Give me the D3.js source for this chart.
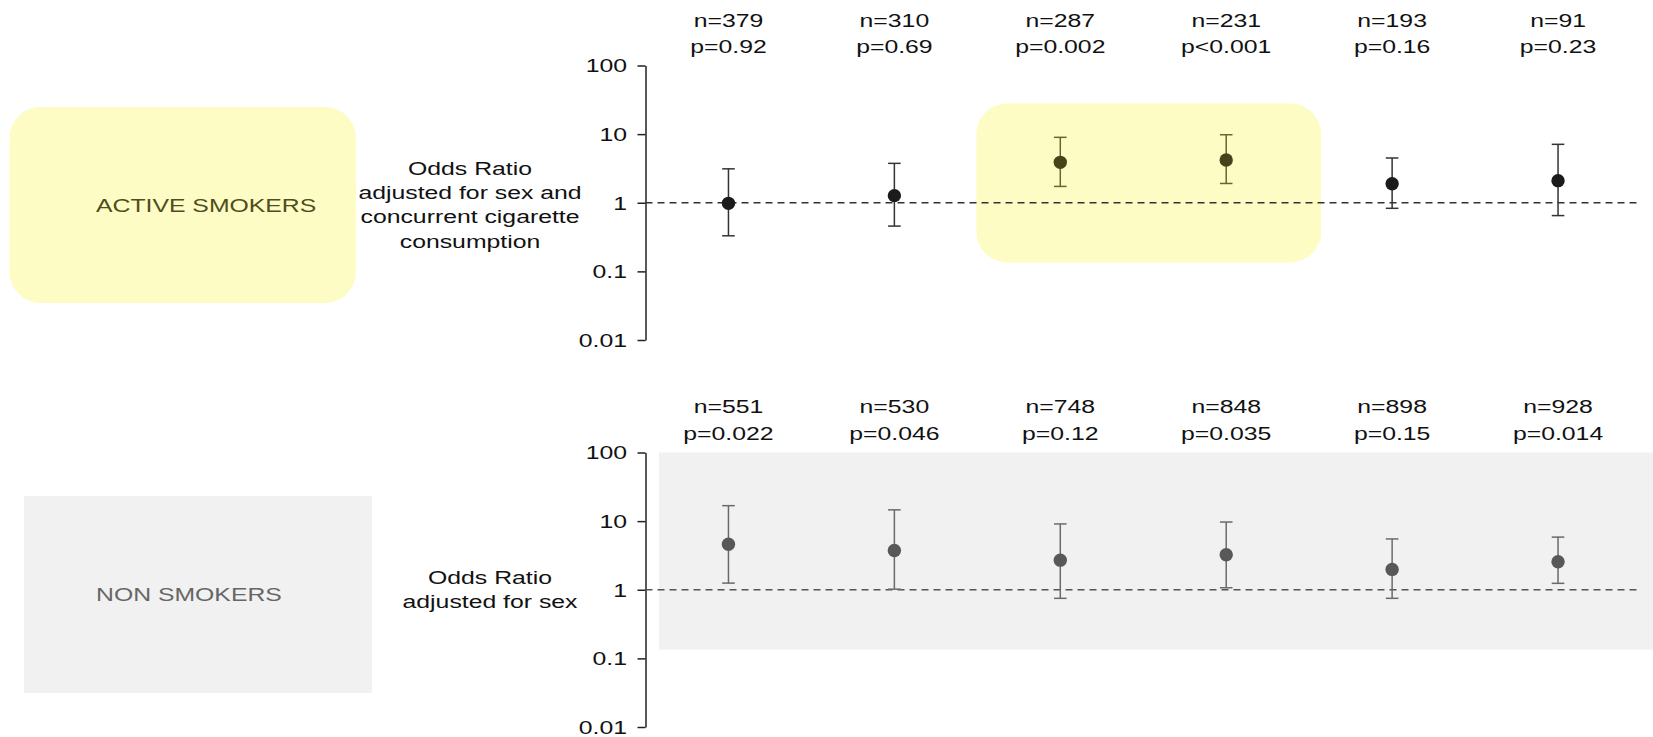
<!doctype html>
<html>
<head>
<meta charset="utf-8">
<title>Odds ratios by group</title>
<script src="https://d3js.org/d3.v7.min.js"></script>
<style>
  body { margin: 0; background: #fff; }
  svg text { font-family: "Liberation Sans", Arial, sans-serif; font-size: 18.5px; }
</style>
</head>
<body>
<script>

// ---- data ----
var activeN  = [379, 310, 287, 231, 193, 91];
var activeP  = ["p=0.92", "p=0.69", "p=0.002", "p<0.001", "p=0.16", "p=0.23"];
var activeOR = [0.98, 1.27, 3.88, 4.2, 1.89, 2.1];
var activeLo = [0.33, 0.457, 1.73, 1.91, 0.83, 0.65];
var activeHi = [3.12, 3.75, 8.98, 9.8, 4.49, 7.1];
var activeHighlight = [2, 3];   // columns inside the yellow box

var nonN  = [551, 530, 748, 848, 898, 928];
var nonP  = ["p=0.022", "p=0.046", "p=0.12", "p=0.035", "p=0.15", "p=0.014"];
var nonOR = [4.6, 3.73, 2.7, 3.23, 1.98, 2.56];
var nonLo = [1.25, 1.02, 0.75, 1.07, 0.75, 1.24];
var nonHi = [16.8, 14.6, 9.1, 9.7, 5.5, 5.85];

var tickVals = [0.01, 0.1, 1, 10, 100];
var activeTitle = ["Odds Ratio", "adjusted for sex and", "concurrent cigarette", "consumption"];
var nonTitle = ["Odds Ratio", "adjusted for sex"];

// ---- layout ----
var W = 1653, H = 737;
var SX = 1.34;          // the figure's type is stretched sideways
var axisX = 645.5;

var svg = d3.select("body").append("svg")
    .attr("width", W)
    .attr("height", H);

var x = d3.scaleBand()
    .domain(d3.range(6))
    .range([axisX, 1641]);

function cx(i) { return x(i) + x.bandwidth() / 2; }

function stretchedText(g, tx, ty, str, anchor, color) {
  return g.append("text")
      .attr("transform", "translate(" + tx + "," + ty + ") scale(" + SX + ",1)")
      .attr("text-anchor", anchor)
      .attr("fill", color)
      .text(str);
}

function panel(opt) {
  var y = d3.scaleLog()
      .domain([0.01, 100])
      .range([opt.bottom, opt.top]);

  var g = svg.append("g");

  // backgrounds
  opt.background(g, y);

  // group label box
  g.append("rect")
      .attr("x", opt.box[0]).attr("y", opt.box[1])
      .attr("width", opt.box[2]).attr("height", opt.box[3])
      .attr("rx", opt.boxR).attr("ry", opt.boxR)
      .attr("fill", opt.boxFill);
  stretchedText(g, 96, opt.box[1] + opt.box[3] / 2 + 6.6, opt.label, "start", opt.labelColor);

  // y title
  opt.title.forEach(function(t, i) {
    stretchedText(g, opt.titleX, opt.titleY + i * 24.4, t, "middle", "#111");
  });

  // axis
  var ax = g.append("g")
      .attr("transform", "translate(" + axisX + ",0)")
      .call(d3.axisLeft(y).tickValues(tickVals).tickFormat(function(d) { return String(d); })
            .tickSize(8).tickSizeOuter(0));
  ax.select(".domain").attr("stroke", "#222").attr("stroke-width", 1.5);
  ax.selectAll(".tick line").attr("stroke", "#222").attr("stroke-width", 1.5);
  ax.selectAll(".tick text")
      .attr("x", -18.5 / SX)
      .attr("dy", "0.34em")
      .attr("transform", "scale(" + SX + ",1)")
      .attr("fill", "#111")
      .style("font-size", "18.5px")
      .style("font-family", "'Liberation Sans', Arial, sans-serif");

  // reference line at OR = 1
  g.append("line")
      .attr("x1", axisX).attr("x2", x.range()[1])
      .attr("y1", y(1)).attr("y2", y(1))
      .attr("stroke", opt.refColor)
      .attr("stroke-width", 1.5)
      .attr("stroke-dasharray", "7,5");

  // n / p labels
  opt.n.forEach(function(n, i) {
    stretchedText(g, cx(i), opt.labelY, "n=" + n, "middle", "#111");
    stretchedText(g, cx(i), opt.labelY + 26.3, opt.p[i], "middle", "#111");
  });

  // error bars and points
  opt.or.forEach(function(v, i) {
    var hl = opt.highlight.indexOf(i) >= 0;
    var barC = hl ? opt.hlBar : opt.bar;
    var dotC = hl ? opt.hlDot : opt.dot;
    var e = g.append("g").attr("stroke", barC).attr("stroke-width", 1.5);
    e.append("line").attr("x1", cx(i)).attr("x2", cx(i))
        .attr("y1", y(opt.hi[i])).attr("y2", y(opt.lo[i]));
    [opt.hi[i], opt.lo[i]].forEach(function(c) {
      e.append("line").attr("x1", cx(i) - 6.3).attr("x2", cx(i) + 6.3)
          .attr("y1", y(c)).attr("y2", y(c));
    });
    g.append("circle")
        .attr("cx", cx(i)).attr("cy", y(v))
        .attr("r", 6.7)
        .attr("fill", dotC);
  });
}

// top: active smokers
panel({
  top: 65.5, bottom: 340,
  n: activeN, p: activeP, or: activeOR, lo: activeLo, hi: activeHi,
  highlight: activeHighlight,
  labelY: 26.6,
  box: [9.5, 107, 346.5, 196], boxR: 31, boxFill: "#fdfcc4",
  label: "ACTIVE SMOKERS", labelColor: "#4f4c1d",
  title: activeTitle, titleX: 470, titleY: 174.6,
  refColor: "#333",
  bar: "#333", dot: "#1b1b1b", hlBar: "#6a6533", hlDot: "#48441a",
  background: function(g, y) {
    var h0 = activeHighlight[0], h1 = activeHighlight[activeHighlight.length - 1];
    g.append("rect")
        .attr("x", cx(h0) - 84)
        .attr("y", y(28))
        .attr("width", cx(h1) + 95 - (cx(h0) - 84))
        .attr("height", y(0.135) - y(28))
        .attr("rx", 31).attr("ry", 31)
        .attr("fill", "#fdfcc4");
  }
});

// bottom: non smokers
panel({
  top: 452.5, bottom: 727,
  n: nonN, p: nonP, or: nonOR, lo: nonLo, hi: nonHi,
  highlight: [],
  labelY: 413.3,
  box: [24, 496, 348, 197], boxR: 0, boxFill: "#f1f1f1",
  label: "NON SMOKERS", labelColor: "#666",
  title: nonTitle, titleX: 490, titleY: 584,
  refColor: "#555",
  bar: "#6a6a6a", dot: "#585858", hlBar: "#6a6a6a", hlDot: "#585858",
  background: function(g, y) {
    g.append("rect")
        .attr("x", axisX + 13.5)
        .attr("y", y(100))
        .attr("width", W - axisX - 13.5)
        .attr("height", y(0.134) - y(100))
        .attr("fill", "#f1f1f1");
  }
});

</script>
</body>
</html>
